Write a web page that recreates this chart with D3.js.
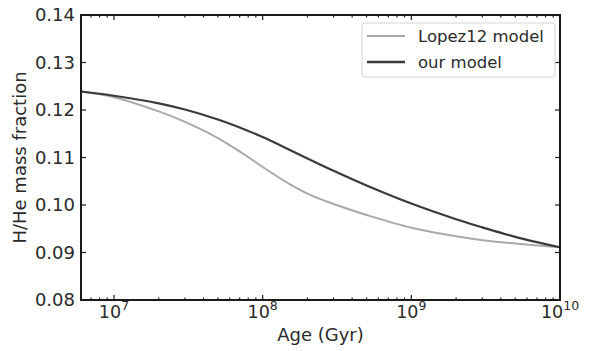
<!DOCTYPE html>
<html>
<head>
<meta charset="utf-8">
<script src="https://cdn.jsdelivr.net/npm/d3@7"></script>
<style>
  html, body { margin: 0; padding: 0; background: #fff; }
  svg { display: block; font-family: "DejaVu Sans", sans-serif; }
</style>
</head>
<body>
<svg id="chart" width="589" height="351"></svg>
<script>
// Ages (yr) at which the mass fraction is sampled
const ages = [6e6, 1e7, 2e7, 3e7, 5e7, 8e7, 1e8, 1.5e8, 2e8, 3e8, 5e8, 1e9, 2e9, 3e9, 5e9, 1e10];
// H/He mass fraction, Lopez12 model
const lopez12 = [0.1239, 0.1227, 0.1197, 0.1175, 0.1141, 0.1101, 0.1080, 0.1045, 0.1024, 0.1002, 0.0979, 0.0952, 0.0934, 0.0926, 0.0919, 0.0911];
// H/He mass fraction, our model
const ourModel = [0.1239, 0.1230, 0.1214, 0.1201, 0.1180, 0.1156, 0.1143, 0.1117, 0.1098, 0.1072, 0.1041, 0.1003, 0.0970, 0.0953, 0.0933, 0.0911];
const seriesNames = ["Lopez12 model", "our model"];
const yTicks = [0.08, 0.09, 0.10, 0.11, 0.12, 0.13, 0.14];
const xMajorTicks = [1e7, 1e8, 1e9, 1e10];

const svg = d3.select("#chart");
const L = 81, R = 560, T = 15, B = 300;

const x = d3.scaleLog().domain([6e6, 1e10]).range([L, R]);
const y = d3.scaleLinear().domain([0.08, 0.14]).range([B, T]);

// minor ticks on the log axis: 2..9 times each decade
const xMinor = [];
for (let e = 6; e < 10; e++) {
  for (let m = 2; m <= 9; m++) {
    const v = m * Math.pow(10, e);
    if (v >= 6e6 && v <= 1e10) xMinor.push(v);
  }
}

const ink = "#1a1a1a";

// curves
const line = d3.line()
  .x(d => x(d[0]))
  .y(d => y(d[1]))
  .curve(d3.curveCatmullRom.alpha(0.5));

svg.append("clipPath").attr("id", "plotclip")
  .append("rect").attr("x", L).attr("y", T).attr("width", R - L).attr("height", B - T);

const curves = svg.append("g").attr("clip-path", "url(#plotclip)");
curves.append("path")
  .datum(ages.map((a, i) => [a, lopez12[i]]))
  .attr("d", line)
  .attr("fill", "none")
  .attr("stroke", "#a9a9a9")
  .attr("stroke-width", 2);
curves.append("path")
  .datum(ages.map((a, i) => [a, ourModel[i]]))
  .attr("d", line)
  .attr("fill", "none")
  .attr("stroke", "#3a3a3a")
  .attr("stroke-width", 2.2);

// inward ticks on all four sides
const ticks = svg.append("g").attr("stroke", ink).attr("stroke-width", 1.2);
const majLen = 5, minLen = 2.5;
xMajorTicks.forEach(v => {
  const px = x(v);
  ticks.append("line").attr("x1", px).attr("x2", px).attr("y1", B).attr("y2", B - majLen);
  ticks.append("line").attr("x1", px).attr("x2", px).attr("y1", T).attr("y2", T + majLen);
});
xMinor.forEach(v => {
  if (xMajorTicks.includes(v)) return;
  const px = x(v);
  ticks.append("line").attr("x1", px).attr("x2", px).attr("y1", B).attr("y2", B - minLen);
  ticks.append("line").attr("x1", px).attr("x2", px).attr("y1", T).attr("y2", T + minLen);
});
yTicks.forEach(v => {
  const py = y(v);
  ticks.append("line").attr("x1", L).attr("x2", L + majLen).attr("y1", py).attr("y2", py);
  ticks.append("line").attr("x1", R).attr("x2", R - majLen).attr("y1", py).attr("y2", py);
});

// frame
svg.append("rect")
  .attr("x", L).attr("y", T).attr("width", R - L).attr("height", B - T)
  .attr("fill", "none").attr("stroke", ink).attr("stroke-width", 2);

// y tick labels
svg.append("g").selectAll("text").data(yTicks).join("text")
  .attr("x", L - 6)
  .attr("y", d => y(d))
  .attr("dy", "0.36em")
  .attr("text-anchor", "end")
  .attr("font-size", 18)
  .attr("fill", "#2a2a2a")
  .text(d => d.toFixed(2));

// x tick labels as powers of ten
const xl = svg.append("g").selectAll("text").data(xMajorTicks).join("text")
  .attr("x", d => x(d))
  .attr("y", 318)
  .attr("text-anchor", "middle")
  .attr("font-size", 17.5)
  .attr("fill", "#2a2a2a");
xl.append("tspan").text("10");
xl.append("tspan")
  .attr("dy", -8)
  .attr("font-size", 12.5)
  .text(d => Math.round(Math.log10(d)));

// axis titles
svg.append("text")
  .attr("x", (L + R) / 2).attr("y", 341)
  .attr("text-anchor", "middle")
  .attr("font-size", 18)
  .attr("fill", "#2a2a2a")
  .text("Age (Gyr)");
svg.append("text")
  .attr("transform", `translate(26,${(T + B) / 2}) rotate(-90)`)
  .attr("text-anchor", "middle")
  .attr("font-size", 18)
  .attr("fill", "#2a2a2a")
  .text("H/He mass fraction");

// legend
const lg = svg.append("g");
lg.append("rect")
  .attr("x", 362).attr("y", 23).attr("width", 193).attr("height", 54)
  .attr("rx", 3)
  .attr("fill", "#fff").attr("stroke", "#d4d4d4").attr("stroke-width", 1);
const legendColors = ["#a9a9a9", "#3a3a3a"];
seriesNames.forEach((name, i) => {
  const ly = 36 + i * 26;
  lg.append("line")
    .attr("x1", 367).attr("x2", 405).attr("y1", ly).attr("y2", ly)
    .attr("stroke", legendColors[i]).attr("stroke-width", i ? 2.4 : 2);
  lg.append("text")
    .attr("x", 418).attr("y", ly).attr("dy", "0.36em")
    .attr("font-size", 16.5)
    .attr("fill", "#2a2a2a")
    .text(name);
});
</script>
</body>
</html>
